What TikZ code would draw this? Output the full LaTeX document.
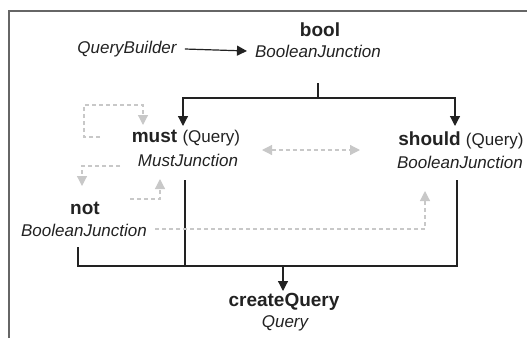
\documentclass[tikz,border=0pt]{standalone}
\usepackage{fontspec}
\setmainfont{Liberation Sans}
\usepackage{tikz}
\usetikzlibrary{arrows.meta}

\definecolor{ink}{HTML}{222222}
\definecolor{faint}{HTML}{C8C8C8}

\tikzset{
  call/.style={font=\fontsize{19}{20}\selectfont\bfseries, text=ink, inner sep=0pt},
  kind/.style={font=\fontsize{17}{18}\selectfont\itshape, text=ink, inner sep=0pt},
  wire/.style={draw=ink, line width=1.2pt},
  go/.style={wire, -{Triangle[width=10pt,length=10pt]}},
  maybe/.style={draw=faint, line width=1.2pt, dash pattern=on 4pt off 3pt,
    -{Triangle[width=10pt,length=10pt]}}
}

\newcommand{\qry}{{\mdseries\fontsize{17}{18}\selectfont(Query)}}

\begin{document}
\begin{tikzpicture}[x=1pt,y=-1pt]
  \useasboundingbox (0,0) rectangle (527,338);

  % frame, cut off at right and bottom
  \draw [draw=black!60, line width=1.5pt] (9,338) -- (9,11) -- (527,11);

  \node [kind] (qb) at (127,49) {QueryBuilder};

  \node [call] (bool) at (320,30) {bool};
  \node [kind] (boolj) at (318,51) {BooleanJunction};

  \node [call] (must) at (186,138) {must \qry};
  \node [kind] (mustj) at (188,160) {MustJunction};

  \node [call] (should) at (461,140) {should \qry};
  \node [kind] (shouldj) at (460,162) {BooleanJunction};

  \node [call] (not) at (85,208) {not};
  \node [kind] (notj) at (84,230) {BooleanJunction};

  \node [call] (create) at (284,302) {createQuery};
  \node [kind] (createj) at (285,323) {Query};

  % tree from bool
  \coordinate (boolout) at (318,83);
  \coordinate (split) at (318,98);
  \coordinate (tomust) at (183,126);
  \coordinate (toshould) at (455,126);

  \draw [go] ([xshift=8pt]qb.east) -- ([xshift=-8pt]boolj.west);
  \draw [wire] (boolout) -- (split);
  \draw [go] (split) -| (tomust);
  \draw [go] (split) -| (toshould);

  % everything joins in createQuery
  \coordinate (mustout) at (185,180);
  \coordinate (notout) at (78,247);
  \coordinate (shouldout) at (457,180);
  \coordinate (busl) at (78,266);
  \coordinate (busm) at (283,266);
  \coordinate (busr) at (457,266);
  \coordinate (tocreate) at (283,291);

  \draw [wire] (notout) -- (busl) -- (busr) -- (shouldout);
  \draw [wire] (mustout) -- (185,266);
  \draw [go] (busm) -- (tocreate);

  % optional nestings
  \draw [maybe] (100,137) -- (84,137) -- (84,105) -- (143,105) -- (143,125);
  \draw [maybe] (120,166) -- (82,166) -- (82,186);
  \draw [maybe] (130,199) -- (160,199) -- (160,179);
  \draw [maybe] (155,229) -- (425,229) -- (425,191);
  \draw [maybe, {Triangle[width=10pt,length=10pt]}-{Triangle[width=10pt,length=10pt]}]
    (262,150) -- (360,150);
\end{tikzpicture}
\end{document}
